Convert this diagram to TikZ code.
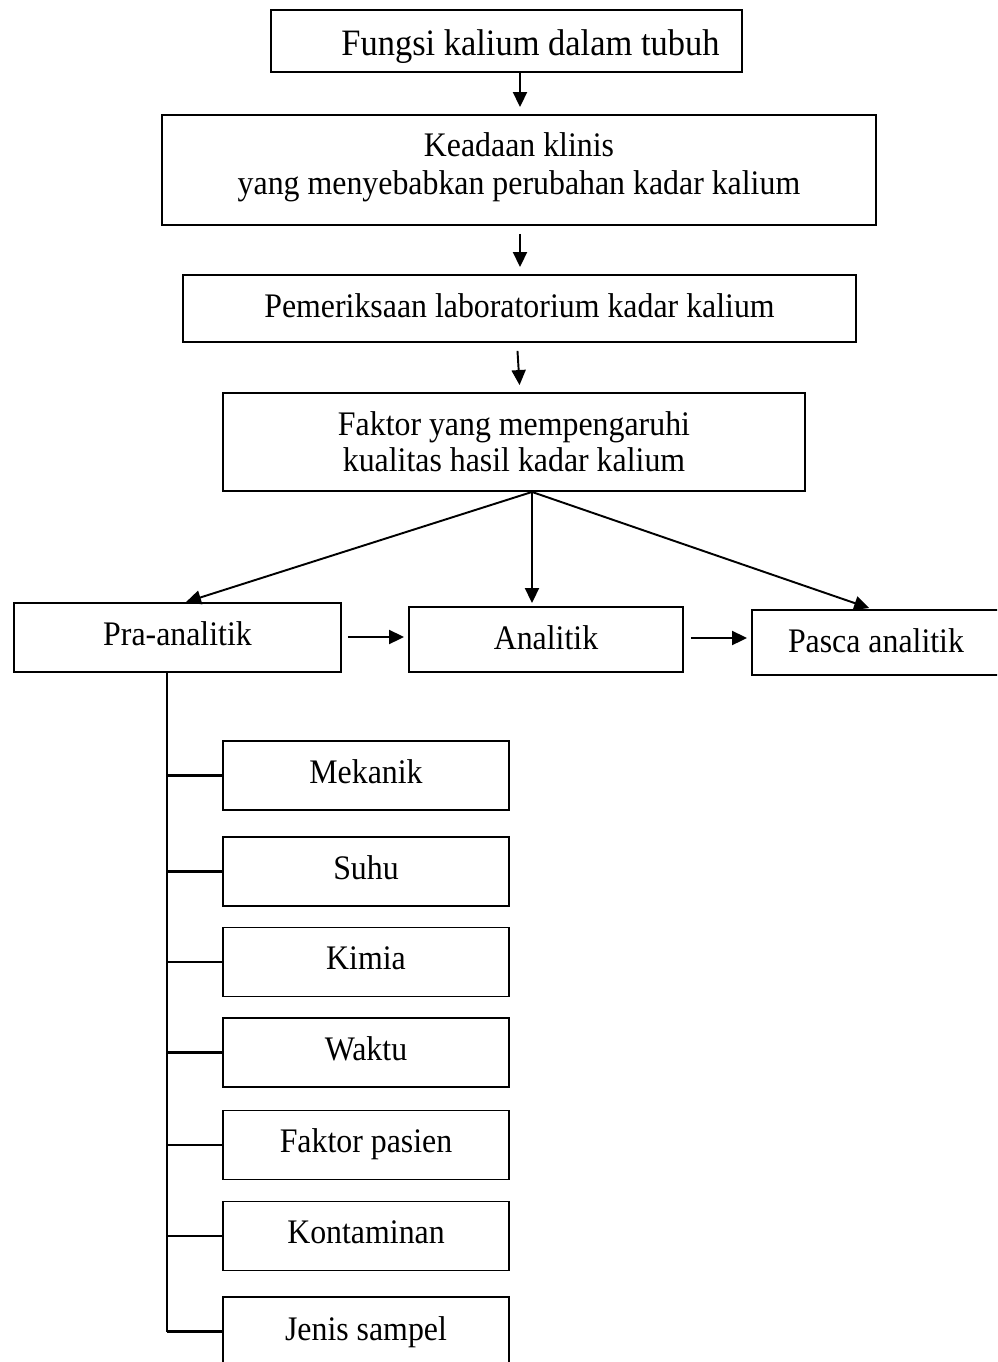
\documentclass[tikz,border=0pt]{standalone}
\usepackage{fontspec}
\setmainfont{Liberation Serif}[FakeStretch=0.925]
\usetikzlibrary{arrows.meta,calc}
\begin{document}
\begin{tikzpicture}[x=0.02cm,y=-0.02cm,
  box/.style={draw, line width=1.1pt, inner sep=0pt},
  sub/.style={box, minimum width=5.72cm, minimum height=1.38cm},
  txt/.style={inner sep=0pt, align=center, font=\fontsize{19.6}{21.5}\selectfont},
  arr/.style={line width=1.1pt, -{Triangle[length=0.3cm,width=0.28cm]}},
  ln/.style={line width=1.2pt}]
\path[use as bounding box, clip] (0,0) rectangle (997,1362);
\fill[white] (0,0) rectangle (997,1362);

% boxes
\node[box, minimum width=9.42cm, minimum height=1.24cm] (b1) at (506.5,41) {};
\node[box, minimum width=14.28cm, minimum height=2.2cm] (b2) at (519,170) {};
\node[box, minimum width=13.46cm, minimum height=1.34cm] (b3) at (519.5,308.5) {};
\node[box, minimum width=11.64cm, minimum height=1.96cm] (b4) at (514,442) {};
\node[box, minimum width=6.54cm, minimum height=1.38cm] (pra) at (177.5,637.5) {};
\node[box, minimum width=5.48cm, minimum height=1.3cm] (ana) at (546,639.5) {};
\node[box, minimum width=4.96cm, minimum height=1.3cm] (pas) at (876,642.5) {};
\node[sub] (s1) at (366,775.5) {};
\node[sub] (s2) at (366,871.5) {};
\node[sub] (s3) at (366,962) {};
\node[sub] (s4) at (366,1052.5) {};
\node[sub] (s5) at (366,1145) {};
\node[sub] (s6) at (366,1236) {};
\node[sub] (s7) at (366,1331.5) {};

% texts
\node[txt, font=\fontsize{21.2}{23}\selectfont] (t1) at ($(b1.center)+(24,5.5)$) {Fungsi kalium dalam tubuh};
\node[txt] (t2) at ($(b2.center)+(0,-3)$) {Keadaan klinis\\yang menyebabkan perubahan kadar kalium};
\node[txt] (t3) at ($(b3.center)+(0,-3)$) {Pemeriksaan laboratorium kadar kalium};
\node[txt, font=\fontsize{19.6}{20.5}\selectfont] (t4) at ($(b4.center)+(0,0)$) {Faktor yang mempengaruhi\\kualitas hasil kadar kalium};
\node[txt] (tpra) at ($(pra.center)+(0,-4)$) {Pra-analitik};
\node[txt] (tana) at ($(ana.center)+(0,-2)$) {Analitik};
\node[txt] (tpas) at ($(pas.center)+(0,-2)$) {Pasca analitik};
\node[txt] (ts1) at ($(s1.center)+(0,-4)$) {Mekanik};
\node[txt] (ts2) at ($(s2.center)+(0,-4)$) {Suhu};
\node[txt] (ts3) at ($(s3.center)+(0,-4)$) {Kimia};
\node[txt] (ts4) at ($(s4.center)+(0,-4)$) {Waktu};
\node[txt] (ts5) at ($(s5.center)+(0,-1)$) {Faktor pasien};
\node[txt] (ts6) at ($(s6.center)+(0,-4)$) {Kontaminan};
\node[txt] (ts7) at ($(s7.center)+(0,1)$) {Jenis sampel};

\coordinate (c1) at (520,0);
\coordinate (c2) at (517,0);
\coordinate (c3) at (532,0);
\coordinate (c4) at (186,0);
\coordinate (c5) at (872,0);
\coordinate (c6) at (0,637);
\coordinate (c7) at (0,638);
\coordinate (sp) at (167,0);

\draw[arr, shorten >=0.14cm] (b1.south -| c1) -- (b2.north -| c1);
\draw[arr, shorten <=0.16cm, shorten >=0.14cm] (b2.south -| c1) -- (b3.north -| c1);
\draw[arr, shorten <=0.16cm, shorten >=0.14cm] (b3.south -| c2) -- (b4.north -| c1);
\draw[arr] (b4.south -| c3) -- (pra.north -| c4);
\draw[arr, shorten >=0.06cm] (b4.south -| c3) -- (ana.north -| c3);
\draw[arr, shorten >=0.06cm] (b4.south -| c3) -- (pas.north -| c5);
\draw[arr, shorten <=0.12cm, shorten >=0.08cm] (pra.east |- c6) -- (ana.west |- c6);
\draw[arr, shorten <=0.14cm, shorten >=0.08cm] (ana.east |- c7) -- (pas.west |- c7);

\draw[ln] (pra.south -| sp) -- (s7.west -| sp);
\foreach \s in {s1,s2,s3,s4,s5,s6,s7} {
  \draw[ln] (\s.west -| sp) -- (\s.west);
}
\end{tikzpicture}
\end{document}
